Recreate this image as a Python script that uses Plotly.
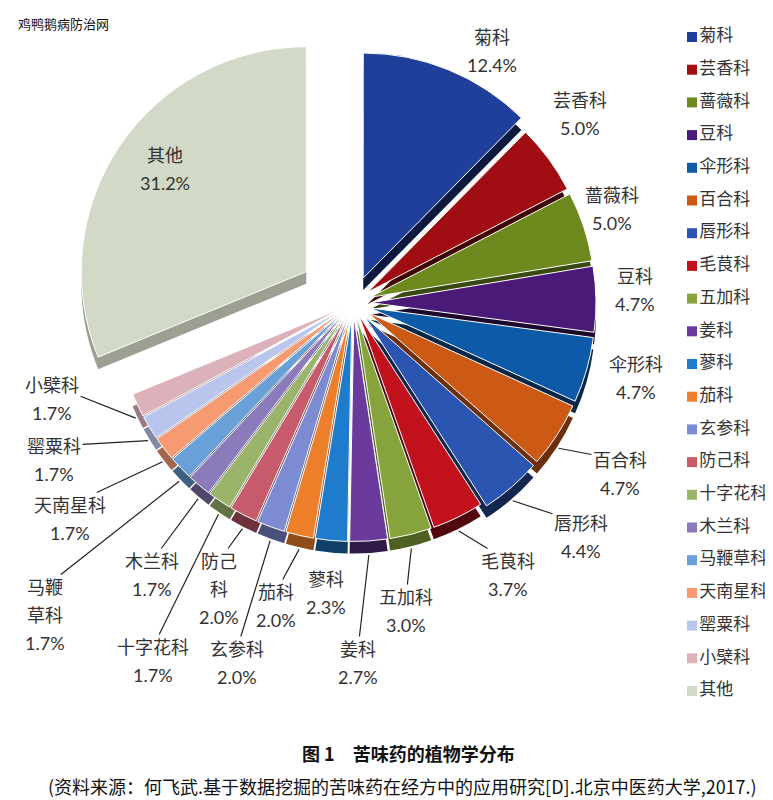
import math
import plotly.graph_objects as go

# data
families = ['菊科', '芸香科', '蔷薇科', '豆科', '伞形科', '百合科', '唇形科', '毛茛科',
            '五加科', '姜科', '蓼科', '茄科', '玄参科', '防己科', '十字花科', '木兰科',
            '马鞭草科', '天南星科', '罂粟科', '小檗科', '其他']
shares = [12.4, 5.0, 5.0, 4.7, 4.7, 4.7, 4.4, 3.7, 3.0, 2.7, 2.3, 2.0, 2.0, 2.0,
          1.7, 1.7, 1.7, 1.7, 1.7, 1.7, 31.2]

colors = ['#1f3f9a', '#a00d12', '#6e8a1e', '#4a1a78', '#0d5aa8', '#cc5a14', '#2a55b0',
          '#c0111c', '#87a43c', '#6a3b9c', '#1f7ccc', '#ee7f2a', '#7d8bd2', '#c75b6c',
          '#9bb46c', '#8b7bba', '#69a0d8', '#f79a72', '#b9c5ec', '#dcb1ba', '#d2d9c6']

# layout / style settings
W, H = 773, 800
cx, cy, r = 345, 295, 225      # pie centre and radius in px
depth = 12                      # fake 3D thickness in px
pulls = [0.12] + [0.08] * 6 + [0.06] * 13 + [0.25]
split_names = {'防己科': ['防己', '科'], '马鞭草科': ['马鞭', '草科']}
# centre of the first text line of each label (px) and whether a leader line is drawn
label_pos = [(484, 29), (572, 92), (604, 187), (627, 268), (628, 356), (612, 452),
             (573, 515), (500, 553), (398, 589), (350, 641), (318, 571), (268, 584),
             (229, 641), (211, 553), (145, 639), (144, 553), (37, 579), (62, 497),
             (46, 438), (44, 377), (157, 147)]
leader = [False, False, False, False, False, True, True, True, True, True, False, True,
          True, True, True, True, True, True, True, True, False]
line_gap = 28

FONT = "Lato, 'Noto Sans CJK SC', sans-serif"


def darker(hexcol):
  rr, gg, bb = int(hexcol[1:3], 16), int(hexcol[3:5], 16), int(hexcol[5:7], 16)
  lum = (0.299 * rr + 0.587 * gg + 0.114 * bb) / 255
  f = 0.28 + 0.55 * lum
  return 'rgb(%d,%d,%d)' % (rr * f, gg * f, bb * f)


box = 2 * r * (1 + max(pulls))
dom_x = [(cx - box / 2) / W, (cx + box / 2) / W]
dom_y = [1 - (cy + box / 2) / H, 1 - (cy - box / 2) / H]
dom_y_low = [dom_y[0] - depth / H, dom_y[1] - depth / H]

fig = go.Figure()

# thickness of the pie: darker copy shifted down
fig.add_trace(go.Pie(
  labels=families, values=shares, sort=False, direction='clockwise', rotation=0,
  pull=pulls, textinfo='none', hoverinfo='skip', showlegend=False,
  marker=dict(colors=[darker(c) for c in colors], line=dict(color='white', width=0)),
  domain=dict(x=dom_x, y=dom_y_low),
))

fig.add_trace(go.Pie(
  labels=families, values=shares, sort=False, direction='clockwise', rotation=0,
  pull=pulls, textinfo='none', showlegend=False,
  marker=dict(colors=colors, line=dict(color='white', width=1)),
  domain=dict(x=dom_x, y=dom_y),
))

# hand-made legend column
fig.add_trace(go.Scatter(
  x=[0] * len(families), y=list(range(len(families))),
  mode='markers+text', text=families, textposition='middle right',
  marker=dict(symbol='square', size=10, color=colors),
  textfont=dict(family=FONT, size=17, color='#333333'),
  cliponaxis=False, hoverinfo='skip', showlegend=False,
))

# labels with leader lines, anchored to the slice geometry
total = sum(shares)
annotations = []
cum = 0
for i, name in enumerate(families):
  mid = (cum + shares[i] / 2) / total * 2 * math.pi
  cum += shares[i]
  rad = r * (1 + pulls[i]) + 2
  tx = cx + rad * math.sin(mid)
  ty = cy - rad * math.cos(mid)
  if math.cos(mid) < 0:
    ty += depth
  lx, ly = label_pos[i]
  lines = split_names.get(name, [name]) + [f'{shares[i]:.1f}%']
  lab_font = dict(family=FONT, size=18, color='#333333')
  annotations.append(dict(
    x=tx / W, y=1 - ty / H, xref='paper', yref='paper',
    ax=lx - tx, ay=ly - ty, text=lines[0], showarrow=True, arrowhead=0,
    arrowwidth=1.2, arrowcolor='#222222' if leader[i] else 'rgba(0,0,0,0)',
    font=lab_font,
  ))
  for k, extra in enumerate(lines[1:], start=1):
    annotations.append(dict(
      x=lx / W, y=1 - (ly + k * line_gap) / H, xref='paper', yref='paper',
      xanchor='center', yanchor='middle', text=extra, showarrow=False, font=lab_font,
    ))

annotations.append(dict(
  x=8 / W, y=1 - 15 / H, xref='paper', yref='paper', xanchor='left', yanchor='middle',
  text='鸡鸭鹅病防治网', showarrow=False,
  font=dict(family="'Noto Sans CJK SC'", size=13, color='#111111'),
))
annotations.append(dict(
  x=400 / W, y=1 - 745 / H, xref='paper', yref='paper', xanchor='center', yanchor='middle',
  text='<b>图 1　苦味药的植物学分布</b>', showarrow=False,
  font=dict(family="'Noto Sans CJK SC'", size=18, color='#111111'),
))
annotations.append(dict(
  x=394 / W, y=1 - 778 / H, xref='paper', yref='paper', xanchor='center', yanchor='middle',
  text='(资料来源：何飞武.基于数据挖掘的苦味药在经方中的应用研究[D].北京中医药大学,2017.)',
  showarrow=False,
  font=dict(family="'Noto Sans CJK SC'", size=18, color='#111111'),
))

leg_left = 657.0
fig.update_layout(
  width=W, height=H,
  margin=dict(l=0, r=0, t=0, b=0),
  paper_bgcolor='white', plot_bgcolor='white',
  xaxis=dict(domain=[leg_left / W, 1], range=[-(684 - leg_left) / (W - leg_left), 1 - (684 - leg_left) / (W - leg_left)],
             visible=False, fixedrange=True),
  yaxis=dict(domain=[0, 1], range=[23.578, -0.887], visible=False, fixedrange=True),
  annotations=annotations,
)

fig.write_html("out.html")
